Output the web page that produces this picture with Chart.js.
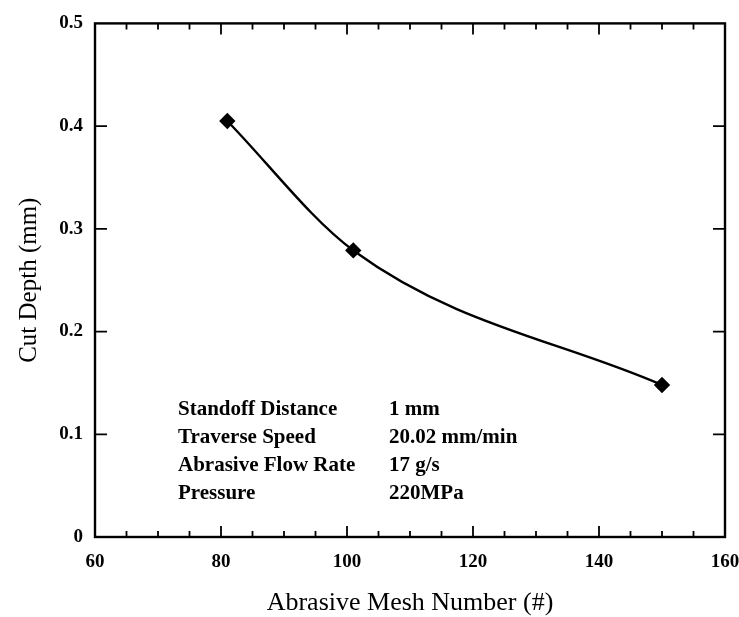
<!DOCTYPE html>
<html>
<head>
<meta charset="utf-8">
<script src="https://cdn.jsdelivr.net/npm/chart.js@4.4.1/dist/chart.umd.min.js"></script>
<style>
    html, body { margin: 0; padding: 0; background: #fff; }
    #wrap { width: 739px; height: 617px; position: relative; }
</style>
</head>
<body>
<div id="wrap"><canvas id="chart"></canvas></div>
<script>
const meshNumber = [81, 101, 150];
const cutDepth = [0.405, 0.279, 0.148];
const xTicks = [60, 80, 100, 120, 140, 160];
const yTicks = [0, 0.1, 0.2, 0.3, 0.4, 0.5];
const infoLabels = ['Standoff Distance', 'Traverse Speed', 'Abrasive Flow Rate', 'Pressure'];
const infoValues = ['1 mm', '20.02 mm/min', '17 g/s', '220MPa'];

const ink = '#000';
const serif = '"Liberation Serif", "Times New Roman", serif';

// frame, inward ticks and parameter text
const framePlugin = {
    id: 'frame',
    afterDraw(chart) {
        const { ctx, chartArea: a, scales: { x, y } } = chart;
        ctx.save();
        ctx.strokeStyle = ink;
        ctx.lineWidth = 2.4;
        ctx.strokeRect(a.left, a.top, a.right - a.left, a.bottom - a.top);

        ctx.lineWidth = 1.8;
        ctx.beginPath();
        for (let v = 65; v < 160; v += 5) {
            const px = x.getPixelForValue(v);
            const len = v % 20 === 0 ? 11 : 6;
            ctx.moveTo(px, a.bottom);
            ctx.lineTo(px, a.bottom - len);
            ctx.moveTo(px, a.top);
            ctx.lineTo(px, a.top + len);
        }
        for (let v = 0.1; v < 0.5; v += 0.1) {
            const py = y.getPixelForValue(v);
            ctx.moveTo(a.left, py);
            ctx.lineTo(a.left + 12, py);
            ctx.moveTo(a.right, py);
            ctx.lineTo(a.right - 12, py);
        }
        ctx.stroke();

        ctx.fillStyle = ink;
        ctx.font = 'bold 21px ' + serif;
        ctx.textBaseline = 'middle';
        infoLabels.forEach((t, i) => {
            const ty = a.top + 386 + i * 28;
            ctx.fillText(t, a.left + 83, ty);
            ctx.fillText(infoValues[i], a.left + 294, ty);
        });
        ctx.restore();
    }
};

new Chart(document.getElementById('chart'), {
    type: 'line',
    data: {
        datasets: [{
            data: meshNumber.map((m, i) => ({ x: m, y: cutDepth[i] })),
            borderColor: ink,
            borderWidth: 2.4,
            backgroundColor: ink,
            pointStyle: 'rectRot',
            pointRadius: 6.5,
            cubicInterpolationMode: 'monotone',
            fill: false,
        }],
    },
    options: {
        responsive: true,
        maintainAspectRatio: false,
        animation: false,
        layout: { padding: { top: 20, right: 14, left: 0, bottom: 0 } },
        plugins: {
            legend: { display: false },
            tooltip: { enabled: false },
        },
        scales: {
            x: {
                type: 'linear',
                min: 60,
                max: 160,
                afterBuildTicks: s => { s.ticks = xTicks.map(v => ({ value: v })); },
                afterFit: s => { s.height = 80; s.paddingRight = 0; s.paddingLeft = 0; },
                grid: { display: false, drawTicks: false },
                border: { display: false },
                ticks: { color: ink, padding: 14, font: { family: serif, size: 19, weight: 'bold' } },
                title: {
                    display: true,
                    text: 'Abrasive Mesh Number (#)',
                    color: ink,
                    padding: { top: 14, bottom: -2 },
                    font: { family: serif, size: 26 },
                },
            },
            y: {
                min: 0,
                max: 0.5,
                afterBuildTicks: s => { s.ticks = yTicks.map(v => ({ value: v })); },
                afterFit: s => { s.width = 95; },
                grid: { display: false, drawTicks: false },
                border: { display: false },
                ticks: {
                    color: ink,
                    padding: 12,
                    font: { family: serif, size: 19, weight: 'bold' },
                    callback: v => (v === 0 ? '0' : v.toFixed(1)),
                },
                title: {
                    display: true,
                    text: 'Cut Depth (mm)',
                    color: ink,
                    padding: { top: 14, bottom: 0 },
                    font: { family: serif, size: 25 },
                },
            },
        },
    },
    plugins: [framePlugin],
});
</script>
</body>
</html>
